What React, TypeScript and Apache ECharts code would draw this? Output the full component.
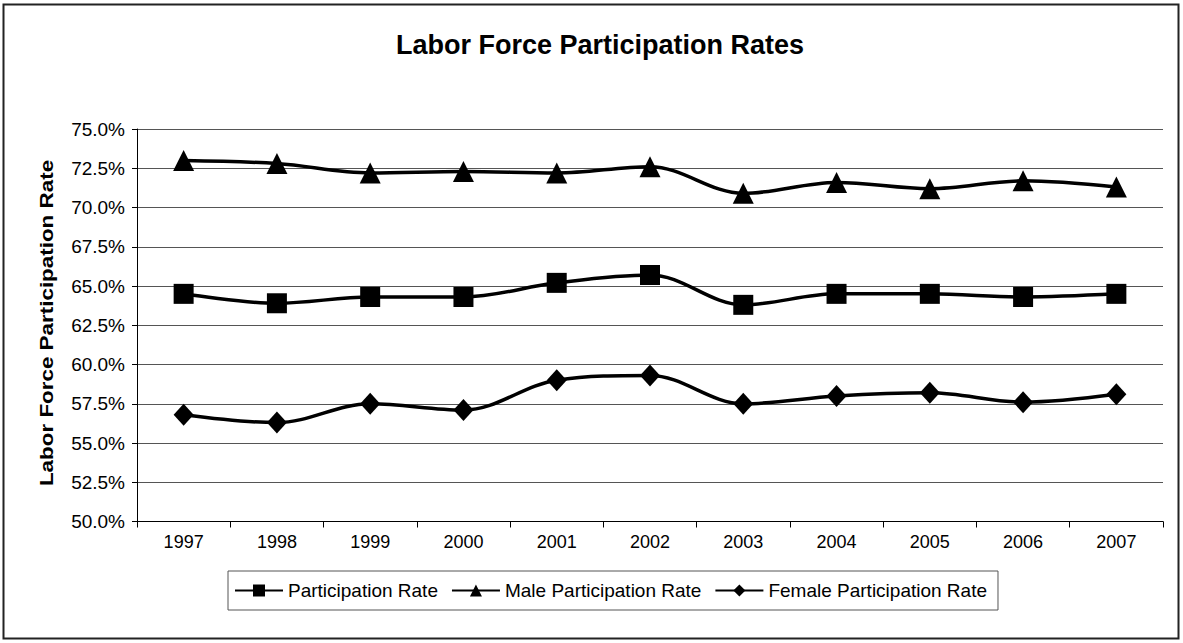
import React, { useEffect, useRef } from "react";
import * as echarts from "echarts";

const years = ["1997", "1998", "1999", "2000", "2001", "2002", "2003", "2004", "2005", "2006", "2007"];
const participationRate = [64.5, 63.9, 64.3, 64.3, 65.2, 65.7, 63.8, 64.5, 64.5, 64.3, 64.5];
const maleRate = [73.0, 72.8, 72.2, 72.3, 72.2, 72.6, 70.9, 71.6, 71.2, 71.7, 71.3];
const femaleRate = [56.8, 56.3, 57.5, 57.1, 59.0, 59.3, 57.5, 58.0, 58.2, 57.6, 58.1];
const seriesNames = ["Participation Rate", "Male Participation Rate", "Female Participation Rate"];
const titleText = "Labor Force Participation Rates";
const yAxisTitle = "Labor Force Participation Rate";

export default function App() {
  const ref = useRef<HTMLDivElement>(null);
  useEffect(() => {
    if (!ref.current) return;
    const chart = echarts.init(ref.current, null, { renderer: "svg" });
    const font = "Arial, 'Liberation Sans', sans-serif";
    const mk = (name: string, data: number[], symbol: string, size: number | number[]) => ({
      name,
      type: "line",
      data,
      smooth: 0.35,
      symbol,
      symbolSize: size,
      itemStyle: { color: "#000" },
      lineStyle: { color: "#000", width: 3.5 },
    });
    chart.setOption({
      animation: false,
      backgroundColor: "#fff",
      textStyle: { fontFamily: font },
      grid: { left: 137, right: 20, top: 129, bottom: 121.5, containLabel: false },
      xAxis: {
        type: "category",
        data: years,
        boundaryGap: true,
        axisLine: { lineStyle: { color: "#000", width: 1 } },
        axisTick: { show: true, length: 6, alignWithLabel: false, lineStyle: { color: "#000" } },
        axisLabel: { color: "#000", fontSize: 18, margin: 11, fontFamily: font },
        splitLine: { show: false },
      },
      yAxis: {
        type: "value",
        min: 50,
        max: 75,
        interval: 2.5,
        axisLine: { show: true, lineStyle: { color: "#000", width: 1 } },
        axisTick: { show: true, length: 5, lineStyle: { color: "#000" } },
        axisLabel: {
          color: "#000",
          fontSize: 19,
          margin: 12,
          fontFamily: font,
          formatter: (v: number) => v.toFixed(1) + "%",
        },
        splitLine: { show: true, lineStyle: { color: "#555", width: 1 } },
      },
      legend: {
        data: seriesNames,
        left: 228,
        top: 571,
        orient: "horizontal",
        padding: [10, 11, 10, 6],
        itemGap: 13,
        itemWidth: 48,
        itemHeight: 15,
        borderColor: "#555",
        borderWidth: 1,
        textStyle: { color: "#000", fontSize: 19, fontFamily: font },
      },
      graphic: [
        {
          type: "rect",
          shape: { x: 3.5, y: 4.5, width: 1175, height: 634 },
          style: { fill: "none", stroke: "#222", lineWidth: 2 },
          silent: true,
        },
        {
          type: "text",
          x: 600,
          y: 45,
          style: {
            text: titleText,
            font: "bold 27px " + font,
            fill: "#000",
            textAlign: "center",
            textVerticalAlign: "middle",
          },
        },
        {
          type: "text",
          x: 46,
          y: 323,
          rotation: Math.PI / 2,
          scaleX: 1.18,
          style: {
            text: yAxisTitle,
            font: "bold 19px " + font,
            fill: "#000",
            textAlign: "center",
            textVerticalAlign: "middle",
          },
        },
      ],
      series: [
        mk(seriesNames[0], participationRate, "rect", 20),
        mk(seriesNames[1], maleRate, "triangle", 21),
        mk(seriesNames[2], femaleRate, "diamond", [20, 22]),
      ],
    });
    return () => chart.dispose();
  }, []);
  return (
    <div
      ref={ref}
      style={{ position: "absolute", left: 0, top: 0, width: 1183, height: 643 }}
    />
  );
}
